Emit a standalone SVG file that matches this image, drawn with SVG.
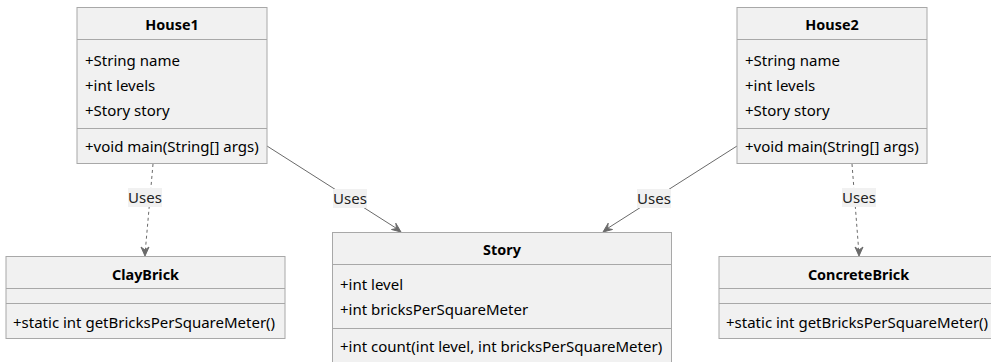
<svg xmlns="http://www.w3.org/2000/svg" width="991" height="362" viewBox="0 0 991 362">
  <style>
    .box { fill: #F1F1F1; stroke: #A8A8A8; stroke-width: 1; }
    .sep { stroke: #A8A8A8; stroke-width: 1; }
    .title { font-family: "Noto Sans", "Liberation Sans", sans-serif; font-size: 14.4px; font-weight: bold; fill: #000; text-anchor: middle; }
    .mem { font-family: "Noto Sans", "Liberation Sans", sans-serif; font-size: 15px; fill: #000; }
    .edge { fill: none; stroke: #6A6A6A; stroke-width: 1; }
    .dash { stroke-dasharray: 3 3; }
    .lblbg { fill: #F1F1F1; }
    .lbl { font-family: "Noto Sans", "Liberation Sans", sans-serif; font-size: 15px; fill: #222; text-anchor: middle; }
    .head { fill: #6A6A6A; stroke: #6A6A6A; stroke-width: 1; }
  </style>
  <rect width="991" height="362" fill="#FFFFFF"/>

  <!-- connectors -->
  <g id="connectors">
    <!-- House1 to ClayBrick -->
    <path class="edge dash" d="M153,164 L145,254"/>
    <path class="head" d="M145,256 L141,247 L145,250 L149,247 Z"/>
    <rect class="lblbg" x="128" y="188" width="34" height="19"/>
    <text class="lbl" x="145" y="203">Uses</text>

    <!-- House1 to Story -->
    <path class="edge" d="M267,146 L399,230"/>
    <path class="head" d="M401,232 L391.5,229.5 L396.5,228.5 L395.8,223.2 Z"/>
    <rect class="lblbg" x="333" y="189" width="34" height="19"/>
    <text class="lbl" x="350" y="204">Uses</text>

    <!-- House2 to Story -->
    <path class="edge" d="M737,146 L605,230"/>
    <path class="head" d="M603,232 L608.2,223.2 L607.5,228.5 L612.5,229.5 Z"/>
    <rect class="lblbg" x="637" y="189" width="34" height="19"/>
    <text class="lbl" x="654" y="204">Uses</text>

    <!-- House2 to ConcreteBrick -->
    <path class="edge dash" d="M852,164 L859,254"/>
    <path class="head" d="M859,256 L855,247 L859,250 L863,247 Z"/>
    <rect class="lblbg" x="842" y="188" width="34" height="19"/>
    <text class="lbl" x="859" y="203">Uses</text>
  </g>

  <!-- House1 -->
  <g id="house1">
    <rect class="box" x="77" y="7.5" width="190" height="156"/>
    <line class="sep" x1="77" y1="39.5" x2="267" y2="39.5"/>
    <line class="sep" x1="77" y1="128.5" x2="267" y2="128.5"/>
    <text class="title" x="172" y="30">House1</text>
    <text class="mem" x="85" y="66">+String name</text>
    <text class="mem" x="85" y="91">+int levels</text>
    <text class="mem" x="85" y="116">+Story story</text>
    <text class="mem" x="85" y="152">+void main(String[] args)</text>
  </g>

  <!-- House2 -->
  <g id="house2">
    <rect class="box" x="737" y="7.5" width="190" height="156"/>
    <line class="sep" x1="737" y1="39.5" x2="927" y2="39.5"/>
    <line class="sep" x1="737" y1="128.5" x2="927" y2="128.5"/>
    <text class="title" x="832" y="30">House2</text>
    <text class="mem" x="745" y="66">+String name</text>
    <text class="mem" x="745" y="91">+int levels</text>
    <text class="mem" x="745" y="116">+Story story</text>
    <text class="mem" x="745" y="152">+void main(String[] args)</text>
  </g>

  <!-- ClayBrick -->
  <g id="claybrick">
    <rect class="box" x="6" y="256.5" width="279" height="82"/>
    <line class="sep" x1="6" y1="288.5" x2="285" y2="288.5"/>
    <line class="sep" x1="6" y1="303.5" x2="285" y2="303.5"/>
    <text class="title" x="145.5" y="280">ClayBrick</text>
    <text class="mem" x="13" y="328">+static int getBricksPerSquareMeter()</text>
  </g>

  <!-- Story -->
  <g id="story">
    <rect class="box" x="332.5" y="232.5" width="339" height="140"/>
    <line class="sep" x1="332.5" y1="264.5" x2="671.5" y2="264.5"/>
    <line class="sep" x1="332.5" y1="328.5" x2="671.5" y2="328.5"/>
    <text class="title" x="502" y="255">Story</text>
    <text class="mem" x="340" y="290">+int level</text>
    <text class="mem" x="340" y="315">+int bricksPerSquareMeter</text>
    <text class="mem" x="340" y="352">+int count(int level, int bricksPerSquareMeter)</text>
  </g>

  <!-- ConcreteBrick -->
  <g id="concretebrick">
    <rect class="box" x="719" y="256.5" width="279" height="82"/>
    <line class="sep" x1="719" y1="288.5" x2="998" y2="288.5"/>
    <line class="sep" x1="719" y1="303.5" x2="998" y2="303.5"/>
    <text class="title" x="858.5" y="280">ConcreteBrick</text>
    <text class="mem" x="726" y="328">+static int getBricksPerSquareMeter()</text>
  </g>
</svg>
